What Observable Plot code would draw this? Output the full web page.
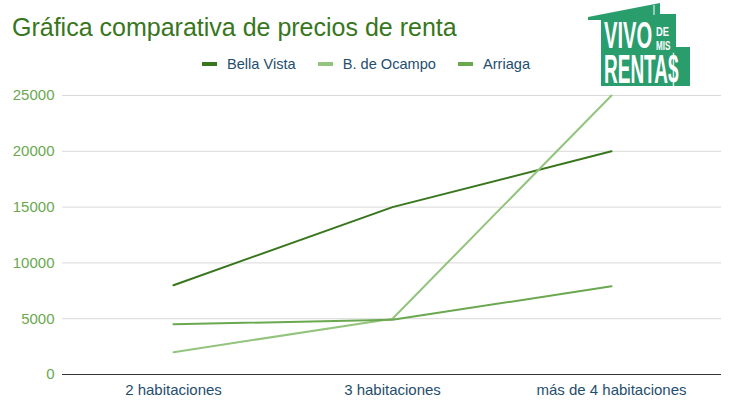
<!DOCTYPE html>
<html>
<head>
<meta charset="utf-8">
<script src="https://cdn.jsdelivr.net/npm/d3@7"></script>
<script src="https://cdn.jsdelivr.net/npm/@observablehq/plot@0.6"></script>
<style>
  body { margin: 0; background: #fff; font-family: "Liberation Sans", Arial, sans-serif; }
  #wrap { position: relative; width: 729px; height: 405px; overflow: hidden; }
  #title { position: absolute; left: 12px; top: 13px; font-size: 25px; color: #38761d; white-space: nowrap; }
  #legend { position: absolute; left: 202px; top: 56px; font-size: 14.6px; color: #1f4e6e; display: flex; white-space: nowrap; }
  .item { display: flex; align-items: center; margin-right: 22px; }
  .sw { width: 15px; height: 4px; margin-right: 10px; }
  #logo { position: absolute; left: 0; top: 0; }
  #chart { position: absolute; left: 0; top: 0; }
</style>
</head>
<body>
<div id="wrap">
  <div id="chart"></div>
  <div id="title">Gráfica comparativa de precios de renta</div>
  <div id="legend"></div>
  <svg id="logo" width="729" height="100">
    <polygon points="588,17 660,3 660,14 676,14 676,47 690,47 690,86 601,86 601,20 588,20" fill="#2a9d6c"/>
    <line x1="654" y1="5" x2="654" y2="15" stroke="#fff" stroke-width="1"/>
    <g fill="#fff" font-family="'Liberation Sans', Arial, sans-serif" font-weight="bold">
      <text transform="translate(604,48) scale(0.56,1)" font-size="36">VIVO</text>
      <text transform="translate(656,35.5) scale(0.69,1)" font-size="13.5">DE</text>
      <text transform="translate(656,50) scale(0.6,1)" font-size="13.5">MIS</text>
      <text transform="translate(604,83) scale(0.475,1)" font-size="40">RENTA$</text>
    </g>
  </svg>
</div>
<script>
const categories = ["2 habitaciones", "3 habitaciones", "más de 4 habitaciones"];
const seriesNames = ["Bella Vista", "B. de Ocampo", "Arriaga"];
const bellaVista = [8000, 15000, 20000];
const bDeOcampo = [2000, 5000, 25000];
const arriaga = [4500, 4900, 7900];
const yTicks = [0, 5000, 10000, 15000, 20000, 25000];
const colors = ["#38761d", "#93c47d", "#6aa84f"];

const seriesValues = [bellaVista, bDeOcampo, arriaga];
const data = [];
seriesNames.forEach((s, i) => categories.forEach((c, j) => data.push({series: s, cat: c, value: seriesValues[i][j]})));

const chart = Plot.plot({
  width: 729,
  height: 405,
  marginTop: 95,
  marginBottom: 31,
  marginLeft: 62,
  marginRight: 8,
  style: { fontFamily: "'Liberation Sans', Arial, sans-serif", fontSize: "15px", background: "transparent" },
  x: { type: "point", domain: categories, padding: 0.5 },
  y: { domain: [0, 25000] },
  color: { domain: seriesNames, range: colors },
  marks: [
    Plot.ruleY(yTicks.filter(d => d > 0), { stroke: "#d9d9d9", strokeWidth: 1 }),
    Plot.ruleY([0], { stroke: "#333", strokeWidth: 1 }),
    Plot.axisY({ ticks: yTicks, tickSize: 0, tickPadding: 8, tickFormat: d => String(d), fill: "#6aa84f", label: null, fontSize: 15 }),
    Plot.axisX({ tickSize: 0, tickPadding: 10, fill: "#1f4e6e", label: null, fontSize: 15 }),
    Plot.line(data, { x: "cat", y: "value", z: "series", stroke: "series", strokeWidth: 2 })
  ]
});
document.getElementById("chart").appendChild(chart);

const legend = document.getElementById("legend");
seriesNames.forEach((s, i) => {
  const it = document.createElement("div");
  it.className = "item";
  const sw = document.createElement("div");
  sw.className = "sw";
  sw.style.background = colors[i];
  const t = document.createElement("span");
  t.textContent = s;
  it.appendChild(sw); it.appendChild(t);
  legend.appendChild(it);
});
</script>
</body>
</html>
